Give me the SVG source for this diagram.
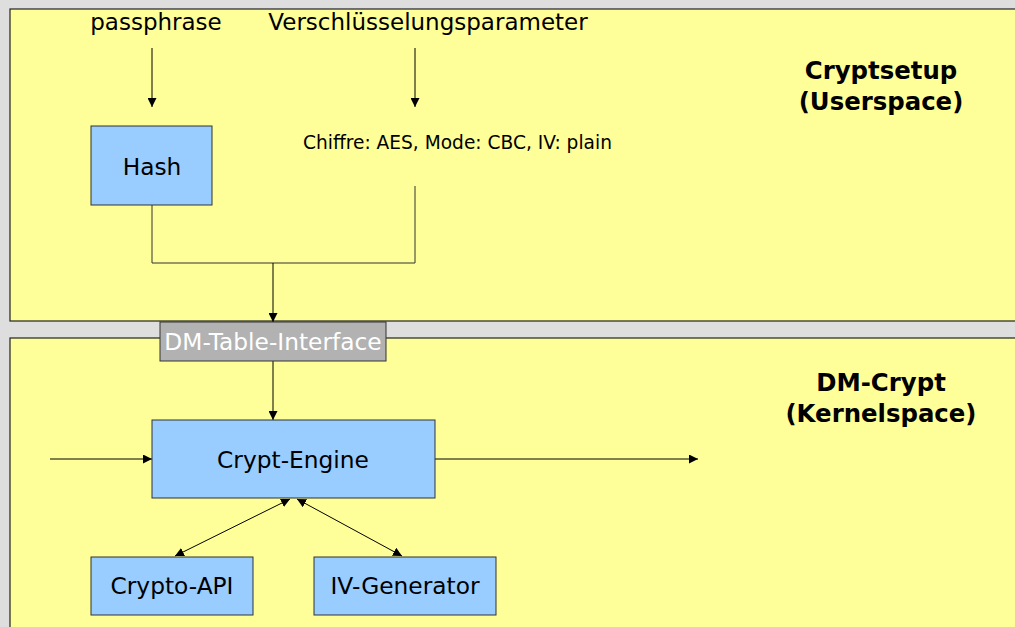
<svg xmlns="http://www.w3.org/2000/svg" width="1015" height="627" viewBox="0 0 1015 627">
  <style>
    .panel { fill: #ffff99; stroke: #222; stroke-width: 1.2; }
    .box { fill: #99ccff; stroke: #333; stroke-width: 1; }
    .iface { fill: #b2b2b2; stroke: #333; stroke-width: 1; }
    .t { font-family: "DejaVu Sans", Verdana, sans-serif; fill: #000; }
    .lbl { font-size: 23.3px; text-anchor: middle; }
    .inp { font-size: 23px; text-anchor: middle; }
    .title { font-size: 24.4px; font-weight: bold; text-anchor: middle; }
    .conn { fill: none; stroke: #000; stroke-width: 1; }
    .thin { fill: none; stroke: #333; stroke-width: 1; }
  </style>
  <defs>
    <marker id="arr" viewBox="0 0 10 10" refX="10" refY="5" markerWidth="9" markerHeight="9" markerUnits="userSpaceOnUse" orient="auto">
      <path d="M0,0 L10,5 L0,10 z" fill="#000"/>
    </marker>
    <marker id="arrS" viewBox="0 0 10 10" refX="10" refY="5" markerWidth="9" markerHeight="9" markerUnits="userSpaceOnUse" orient="auto-start-reverse">
      <path d="M0,0 L10,5 L0,10 z" fill="#000"/>
    </marker>
  </defs>

  <rect x="0" y="0" width="1015" height="627" fill="#dedede"/>

  <!-- layer panels -->
  <g id="userspace">
    <rect class="panel" x="10" y="9" width="1020" height="312"/>
    <text class="t title" x="881" y="79">Cryptsetup</text>
    <text class="t title" x="881" y="110">(Userspace)</text>
  </g>
  <g id="kernelspace">
    <rect class="panel" x="10" y="338" width="1020" height="300"/>
    <text class="t title" x="881" y="391">DM-Crypt</text>
    <text class="t title" x="881" y="422">(Kernelspace)</text>
  </g>

  <!-- connectors -->
  <g id="connectors">
    <line class="conn" x1="152" y1="48" x2="152" y2="107" stroke-width="1.6" marker-end="url(#arr)"/>
    <line class="conn" x1="415" y1="48" x2="415" y2="107" stroke-width="1.6" marker-end="url(#arr)"/>
    <polyline class="thin" points="152,205 152,263 415,263 415,186"/>
    <line class="conn" x1="273" y1="263" x2="273" y2="322" marker-end="url(#arr)"/>
    <line class="conn" x1="273" y1="361" x2="273" y2="420" marker-end="url(#arr)"/>
    <line class="conn" x1="50" y1="459" x2="152" y2="459" stroke-width="1.6" marker-end="url(#arr)"/>
    <line class="conn" x1="435" y1="459" x2="698" y2="459" marker-end="url(#arr)"/>
    <line class="conn" x1="290" y1="499" x2="175" y2="556" marker-start="url(#arrS)" marker-end="url(#arr)"/>
    <line class="conn" x1="297" y1="499" x2="402" y2="556" marker-start="url(#arrS)" marker-end="url(#arr)"/>
  </g>

  <!-- inputs -->
  <g id="passphrase">
    <text class="t inp" x="156" y="30">passphrase</text>
  </g>
  <g id="parameters">
    <text class="t inp" x="428" y="30">Verschlüsselungsparameter</text>
    <text class="t" x="303" y="149" style="font-size:18.6px">Chiffre: AES, Mode: CBC, IV: plain</text>
  </g>

  <g id="hash">
    <rect class="box" x="91" y="126" width="121" height="79"/>
    <text class="t lbl" x="152" y="175">Hash</text>
  </g>

  <g id="dm-table-interface">
    <rect class="iface" x="160" y="322" width="226" height="39"/>
    <text class="t lbl" x="273" y="350" style="fill:#fff">DM-Table-Interface</text>
  </g>

  <g id="crypt-engine">
    <rect class="box" x="152" y="420" width="283" height="78"/>
    <text class="t lbl" x="293" y="468">Crypt-Engine</text>
  </g>

  <g id="crypto-api">
    <rect class="box" x="91" y="557" width="162" height="58"/>
    <text class="t lbl" x="172" y="594">Crypto-API</text>
  </g>

  <g id="iv-generator">
    <rect class="box" x="314" y="557" width="182" height="58"/>
    <text class="t lbl" x="405" y="594">IV-Generator</text>
  </g>
</svg>
